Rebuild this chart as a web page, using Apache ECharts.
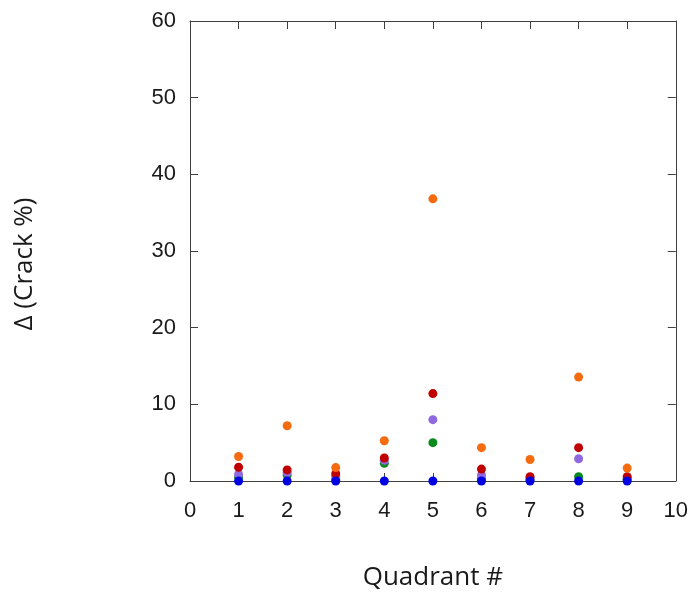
<!DOCTYPE html>
<html>
<head>
<meta charset="utf-8">
<script src="https://cdn.jsdelivr.net/npm/echarts@6/dist/echarts.min.js"></script>
<style>
  html, body { margin: 0; padding: 0; background: #ffffff; }
  #chart { width: 691px; height: 596px; }
</style>
</head>
<body>
<div id="chart"></div>
<script>
// Quadrant numbers along the x axis
const quadrants = [1, 2, 3, 4, 5, 6, 7, 8, 9];

// Change in crack percentage per quadrant, one array per series
const seriesOrange = [3.2, 7.2, 1.75, 5.25, 36.8, 4.35, 2.8, 13.55, 1.68];
const seriesRed    = [1.8, 1.45, 0.95, 3.0, 11.4, 1.55, 0.56, 4.35, 0.56];
const seriesPurple = [0.85, 1.1, 0.6, 2.7, 8.0, 0.77, 0.4, 2.9, 0.3];
const seriesGreen  = [0.5, 0.77, 0.2, 2.3, 5.0, 0.3, 0.2, 0.56, 0.2];
const seriesBlue   = [0, 0, 0, 0, 0, 0, 0, 0, 0];

const axisColor = '#404040';
const textColor = '#1a1a1a';
const tickFont = 'Liberation Sans, Arial, sans-serif';
const titleFont = 'Open Sans, sans-serif';

function pairs(values) {
  return quadrants.map((q, i) => [q, values[i]]);
}

function scatter(name, values, color, z) {
  return {
    name: name,
    type: 'scatter',
    data: pairs(values),
    symbol: 'circle',
    symbolSize: 9,
    itemStyle: { color: color, opacity: 1 },
    z: z,
    silent: true
  };
}

// Shared frame style: thin dark lines with inward ticks on all four sides
function frameAxis(extra) {
  return Object.assign({
    type: 'value',
    axisLine: { show: true, onZero: false, lineStyle: { color: axisColor, width: 1 } },
    axisTick: { show: true, inside: true, length: 8, lineStyle: { color: axisColor, width: 1 } },
    splitLine: { show: false }
  }, extra);
}

const chart = echarts.init(document.getElementById('chart'), null, { renderer: 'canvas' });

chart.setOption({
  animation: false,
  backgroundColor: '#ffffff',
  grid: { left: 190, right: 14, top: 21, bottom: 110, containLabel: false },
  xAxis: [
    frameAxis({
      min: 0, max: 10, interval: 1, position: 'bottom',
      axisLabel: { color: textColor, fontFamily: tickFont, fontSize: 22, margin: 19 },
      name: 'Quadrant #', nameLocation: 'middle', nameGap: 84,
      nameTextStyle: { color: textColor, fontFamily: titleFont, fontSize: 26 }
    }),
    frameAxis({
      min: 0, max: 10, interval: 1, position: 'top',
      axisLabel: { show: false }
    })
  ],
  yAxis: [
    frameAxis({
      min: 0, max: 60, interval: 10, position: 'left',
      axisLabel: { color: textColor, fontFamily: tickFont, fontSize: 22, margin: 14 },
      name: 'Δ (Crack %)', nameLocation: 'middle', nameGap: 152, nameRotate: 90,
      nameTextStyle: { color: textColor, fontFamily: titleFont, fontSize: 26, padding: [0, 26, 0, 0] }
    }),
    frameAxis({
      min: 0, max: 60, interval: 10, position: 'right',
      axisLabel: { show: false }
    })
  ],
  series: [
    scatter('Green', seriesGreen, '#0b8a1e', 2),
    scatter('Purple', seriesPurple, '#8f6ade', 3),
    scatter('Red', seriesRed, '#c00000', 4),
    scatter('Orange', seriesOrange, '#f46b10', 5),
    scatter('Blue', seriesBlue, '#0000e0', 6)
  ]
});
</script>
</body>
</html>
